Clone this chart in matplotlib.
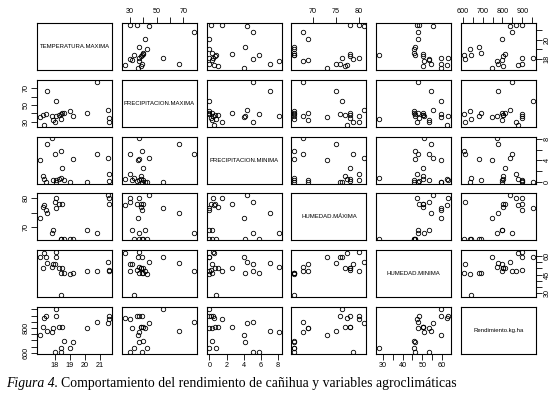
import matplotlib
matplotlib.use("Agg")
import matplotlib.pyplot as plt

# variable names (diagonal)
names = ["TEMPERATURA.MAXIMA", "PRECIPITACION.MAXIMA", "PRECIPITACION.MINIMA",
         "HUMEDAD.MÁXIMA", "HUMEDAD.MINIMA", "Rendimiento.kg.ha"]

temp = [17.0, 17.2, 17.4, 17.3, 17.5, 17.8, 17.9, 18.0, 18.1, 18.1, 18.3,
        18.4, 18.5, 18.4, 18.6, 19.0, 19.2, 20.1, 20.8, 21.5, 21.6, 21.6]
pmax = [36, 38.5, 39, 26, 67, 37, 31.5, 30, 55, 37, 38,
        39, 40, 33, 40, 43, 37, 41, 78, 44, 35, 30]
pmin = [4.0, 1.0, 0.0, 0.5, 7.1, 8.1, 0.3, 5.1, 0.0, 0.4, 0.6,
        5.8, 2.6, 0.8, 0.3, 0.0, 4.2, 0.0, 5.1, 4.4, 0.2, 1.5]
hmax = [73, 77, 76, 77.5, 75, 68, 69, 78.6, 76.4, 80, 78,
        66, 78, 66, 66, 66, 66, 69, 68, 81, 78, 80]
hmin = [59.6, 50.3, 59.6, 62.5, 54.5, 51.1, 53.2, 53.2, 59.6, 63.3, 50.5,
        46.1, 50.6, 28, 46, 45.6, 46.1, 47.7, 47.7, 55.3, 48.5, 47.5]
rend = [746, 805, 900, 880, 779, 770, 800, 611, 955, 900, 805,
        605, 811, 643, 692, 638, 684, 800, 846, 838, 900, 870]

# tick positions and the labels shown on the horizontal / vertical outer axes
ticks = [[18, 19, 20, 21],
         [30, 40, 50, 60, 70],
         [0, 2, 4, 6, 8],
         [70, 75, 80],
         [30, 35, 40, 45, 50, 55, 60],
         [600, 650, 700, 750, 800, 850, 900, 950]]
xlabs = [["18", "19", "20", "21"],
         ["30", "", "50", "", "70"],
         ["0", "2", "4", "6", "8"],
         ["70", "75", "80"],
         ["30", "", "40", "", "50", "", "60"],
         ["600", "", "700", "", "800", "", "900", ""]]
ylabs = [["18", "", "20", ""],
         ["30", "", "50", "", "70"],
         ["0", "", "4", "", "8"],
         ["70", "", "80"],
         ["30", "", "", "45", "", "", "60"],
         ["600", "", "", "", "800", "", "", ""]]

data = [temp, pmax, pmin, hmax, hmin, rend]
lims = []
for v in data:
    r = max(v) - min(v)
    lims.append((min(v) - 0.04 * r, max(v) + 0.04 * r))

W, H = 558, 396
fig = plt.figure(figsize=(W / 100, H / 100), dpi=100)
plt.rcParams['font.family'] = ['Liberation Sans', 'DejaVu Sans']

n = 6
left0, top0, sx, sy, pw, ph = 37, 23, 84.8, 56.8, 75, 47
tick_kw = dict(direction='out', length=4, width=0.6, labelsize=5.2, pad=1.5)

for i in range(n):
    for j in range(n):
        x0 = left0 + j * sx
        y0 = top0 + i * sy
        ax = fig.add_axes([x0 / W, 1 - (y0 + ph) / H, pw / W, ph / H])
        for s in ax.spines.values():
            s.set_linewidth(0.8)
        ax.set_xlim(lims[j])
        ax.set_ylim(lims[i])
        ax.set_xticks([])
        ax.set_yticks([])
        if i == j:
            ax.text(0.5, 0.5, names[i], transform=ax.transAxes, ha='center',
                    va='center', fontsize=4.3)
        else:
            ax.plot(data[j], data[i], 'o', mfc='none', mec='black', ms=3.2, mew=0.6)
        # outer axes, alternating like R's pairs()
        if i == 0 and j % 2 == 1:
            ax.xaxis.tick_top()
            ax.set_xticks(ticks[j])
            ax.set_xticklabels(xlabs[j])
            ax.tick_params(axis='x', **tick_kw)
        if i == n - 1 and j % 2 == 0:
            ax.set_xticks(ticks[j])
            ax.set_xticklabels(xlabs[j])
            ax.tick_params(axis='x', **tick_kw)
        if j == 0 and i % 2 == 1:
            ax.set_yticks(ticks[i])
            ax.set_yticklabels(ylabs[i], rotation=90, va='center')
            ax.tick_params(axis='y', **tick_kw)
        if j == n - 1 and i % 2 == 0:
            ax.yaxis.tick_right()
            ax.set_yticks(ticks[i])
            ax.set_yticklabels(ylabs[i], rotation=90, va='center')
            ax.tick_params(axis='y', **tick_kw)

# caption
cap_size = 9.9
t1 = fig.text(6 / W, 1 - 387 / H, "Figura 4.", fontstyle='italic',
              family='Liberation Serif', fontsize=cap_size, va='baseline')
r = fig.canvas.get_renderer()
bb = t1.get_window_extent(r)
fig.text((bb.x1 + 3) / W, 1 - 387 / H,
         "Comportamiento del rendimiento de cañihua y variables agroclimáticas",
         family='Liberation Serif', fontsize=cap_size, va='baseline')

fig.savefig("out.png", dpi=100)
